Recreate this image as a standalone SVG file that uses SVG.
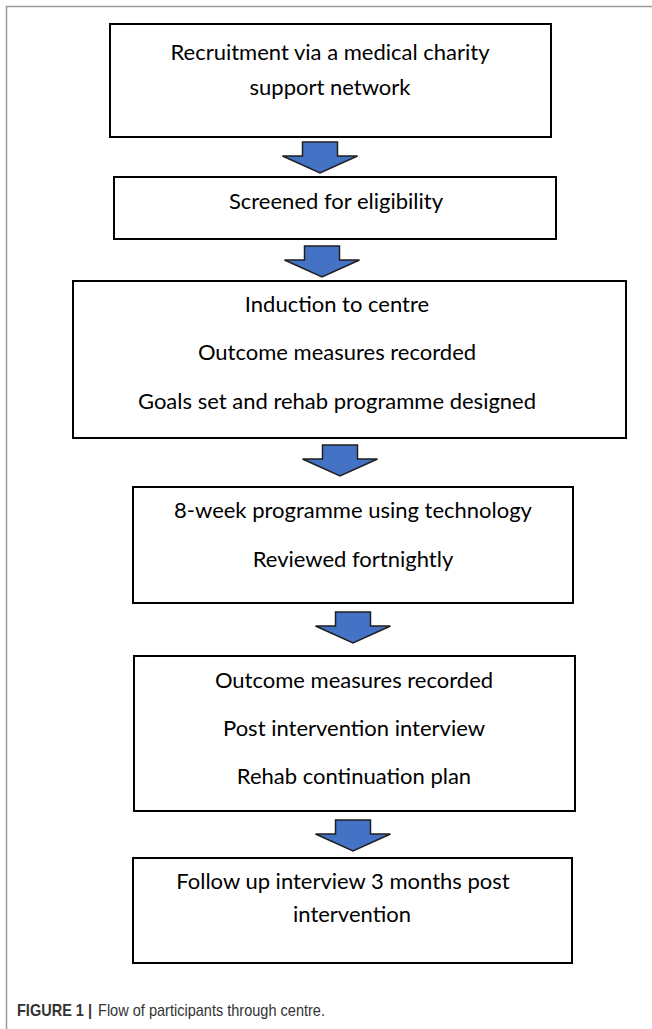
<svg xmlns="http://www.w3.org/2000/svg" width="652" height="1029" viewBox="0 0 652 1029">
<defs>
<style>
.box{fill:#fff;stroke:#000;stroke-width:2}
.t{font-family:Lato,"Open Sans",sans-serif;font-size:22px;fill:#000;text-anchor:middle}
.arr{fill:#4472C4;stroke:#1f1f1f;stroke-width:1.5;stroke-linejoin:miter}
.frame{stroke:#9a9a9a;stroke-width:1.5;fill:none}
.cap{font-family:"Liberation Sans",Arial,sans-serif;font-size:17px;fill:#333}
</style>
<path id="arrowShape" d="M-17.5,0 H17.5 V14 H37.5 L0,31 L-37.5,14 H-17.5 Z"/>
</defs>
<rect width="652" height="1029" fill="#fff"/>
<path class="frame" d="M6.5,1029 V6.5 H652"/>
<g id="connectors">
<use href="#arrowShape" class="arr" x="320" y="142"/>
<use href="#arrowShape" class="arr" x="322" y="246"/>
<use href="#arrowShape" class="arr" x="340" y="445"/>
<use href="#arrowShape" class="arr" x="353" y="612"/>
<use href="#arrowShape" class="arr" x="353" y="820"/>
</g>
<g id="n1">
<rect class="box" x="110" y="24" width="441" height="113"/>
<text class="t" x="330" y="60">Recruitment via a medical charity</text>
<text class="t" x="330" y="95">support network</text>
</g>
<g id="n2">
<rect class="box" x="114" y="177" width="442" height="62"/>
<text class="t" x="336" y="209">Screened for eligibility</text>
</g>
<g id="n3">
<rect class="box" x="73" y="281" width="553" height="157"/>
<text class="t" x="337" y="312">Induction to centre</text>
<text class="t" x="337" y="360">Outcome measures recorded</text>
<text class="t" x="337" y="409">Goals set and rehab programme designed</text>
</g>
<g id="n4">
<rect class="box" x="133" y="487" width="440" height="116"/>
<text class="t" x="353" y="518">8-week programme using technology</text>
<text class="t" x="353" y="567">Reviewed fortnightly</text>
</g>
<g id="n5">
<rect class="box" x="134" y="656" width="441" height="155"/>
<text class="t" x="354" y="688">Outcome measures recorded</text>
<text class="t" x="354" y="736">Post intervention interview</text>
<text class="t" x="354" y="784">Rehab continuation plan</text>
</g>
<g id="n6">
<rect class="box" x="133" y="858" width="439" height="105"/>
<text class="t" x="343" y="889">Follow up interview 3 months post</text>
<text class="t" x="352" y="922">intervention</text>
</g>
<g id="caption">
<text class="cap" x="17" y="1016" font-weight="bold" fill="#222" textLength="75" lengthAdjust="spacingAndGlyphs">FIGURE 1 |</text>
<text class="cap" x="98" y="1016" textLength="227" lengthAdjust="spacingAndGlyphs">Flow of participants through centre.</text>
</g>
</svg>
